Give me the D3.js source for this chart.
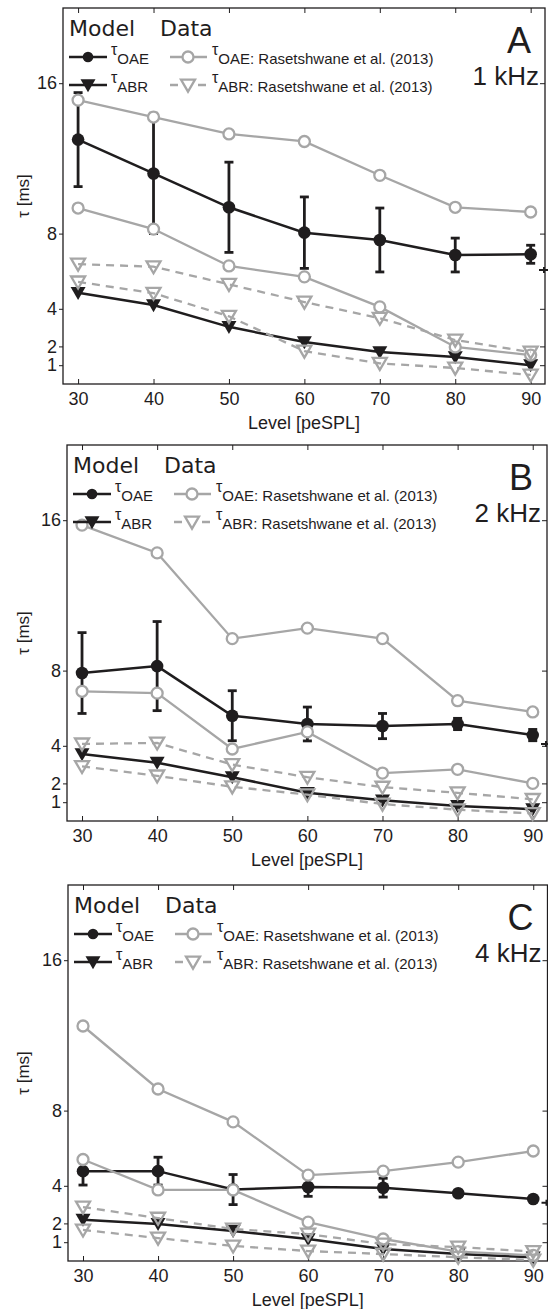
<!DOCTYPE html>
<html>
<head>
<meta charset="utf-8">
<script src="https://cdn.jsdelivr.net/npm/d3@7"></script>
<style>
body { margin: 0; background: #fff; }
svg { display: block; }
text { font-family: 'Liberation Sans', Arial, sans-serif; fill: #1f1d1e; }
</style>
</head>
<body>
<svg id="chart" width="548" height="1309"></svg>
<script>
const levels = [30, 40, 50, 60, 70, 80, 90]
const yTickValues = [1, 2, 4, 8, 16]
const panelLetters = ['A', 'B', 'C']
const panelFreqs = ['1 kHz', '2 kHz', '4 kHz']

// panel A, 1 kHz
const oaeModelA = [13.0, 11.2, 9.4, 8.05, 7.66, 6.86, 6.9]
const oaeErrA = [2.5, 3.2, 2.4, 1.9, 1.7, 0.9, 0.48]
const abrModelA = [4.85, 4.2, 3.04, 2.23, 1.7, 1.43, 1.0]
const oaeDataHiA = [15.1, 14.2, 13.3, 12.9, 11.1, 9.4, 9.15]
const oaeDataLoA = [9.36, 8.24, 6.28, 5.7, 4.1, 1.97, 1.54]
const abrDataHiA = [6.38, 6.24, 5.3, 4.36, 3.5, 2.34, 1.7]
const abrDataLoA = [5.43, 4.83, 3.6, 1.75, 1.1, 0.85, 0.48]
const strayA = 6.06

// panel B, 2 kHz
const oaeModelB = [7.87, 8.24, 5.6, 5.16, 5.05, 5.16, 4.57]
const oaeErrB = [2.15, 2.37, 1.33, 0.9, 0.67, 0.3, 0.3]
const abrModelB = [3.56, 3.1, 2.33, 1.5, 1.1, 0.8, 0.63]
const oaeDataHiB = [15.74, 14.26, 9.7, 10.26, 9.7, 6.4, 5.8]
const oaeDataLoB = [6.9, 6.8, 3.83, 4.74, 2.55, 2.75, 2.0]
const abrDataHiB = [4.1, 4.15, 3.0, 2.33, 1.8, 1.5, 1.15]
const abrDataLoB = [2.9, 2.4, 1.82, 1.4, 0.9, 0.6, 0.4]
const strayB = 4.1

// panel C, 4 kHz
const oaeModelC = [4.78, 4.78, 3.8, 3.94, 3.9, 3.6, 3.3]
const oaeErrC = [0.74, 0.74, 0.8, 0.5, 0.5, 0.15, 0.1]
const abrModelC = [2.2, 1.97, 1.6, 1.17, 0.64, 0.37, 0.2]
const oaeDataHiC = [12.5, 9.15, 7.4, 4.57, 4.78, 5.26, 5.85]
const oaeDataLoC = [5.4, 3.78, 3.78, 2.07, 1.17, 0.5, 0.3]
const abrDataHiC = [2.87, 2.28, 1.7, 1.43, 0.9, 0.74, 0.5]
const abrDataLoC = [1.65, 1.22, 0.8, 0.53, 0.37, 0.2, 0.05]
const strayC = 3.1

const panels = [
    { oae: oaeModelA, err: oaeErrA, abr: abrModelA, oaeHi: oaeDataHiA, oaeLo: oaeDataLoA, abrHi: abrDataHiA, abrLo: abrDataLoA, stray: strayA },
    { oae: oaeModelB, err: oaeErrB, abr: abrModelB, oaeHi: oaeDataHiB, oaeLo: oaeDataLoB, abrHi: abrDataHiB, abrLo: abrDataLoB, stray: strayB },
    { oae: oaeModelC, err: oaeErrC, abr: abrModelC, oaeHi: oaeDataHiC, oaeLo: oaeDataLoC, abrHi: abrDataHiC, abrLo: abrDataLoC, stray: strayC }
]

const frames = [
    { top: 8, left: 63, right: 545 },
    { top: 445, left: 67, right: 547 },
    { top: 885, left: 68, right: 547.5 }
]
const frameH = 376
const black = '#1f1d1e'
const gray = '#a6a6a6'
const triDown = (w, h) => `M${-w / 2},${-h * 0.45}L${w / 2},${-h * 0.45}L0,${h * 0.55}Z`

const svg = d3.select('#chart')

const drawCircles = (g, vals, x, y, r, fill, stroke, sw) => {
    g.selectAll(null)
        .data(vals)
        .enter()
        .append('circle')
        .attr('cx', (d, i) => x(levels[i]))
        .attr('cy', d => y(d))
        .attr('r', r)
        .attr('fill', fill)
        .attr('stroke', stroke)
        .attr('stroke-width', sw)
}

const drawTris = (g, vals, x, y, w, h, fill, stroke, sw) => {
    g.selectAll(null)
        .data(vals)
        .enter()
        .append('path')
        .attr('d', triDown(w, h))
        .attr('transform', (d, i) => `translate(${x(levels[i])},${y(d)})`)
        .attr('fill', fill)
        .attr('stroke', stroke)
        .attr('stroke-width', sw)
}

panels.forEach((p, pi) => {
    const f = frames[pi]
    const x = d3.scaleLinear().domain([28, 91.9]).range([f.left, f.right])
    const y = d3.scaleLinear().domain([0, 20]).range([f.top + frameH, f.top])
    const g = svg.append('g')
    const line = d3.line().x((d, i) => x(levels[i])).y(d => y(d))

    // axes
    const bottom = g.append('g')
        .attr('transform', `translate(0,${f.top + frameH})`)
        .call(d3.axisBottom(x).tickValues(levels).tickSizeInner(-5).tickSizeOuter(0).tickPadding(8))
    const top = g.append('g')
        .attr('transform', `translate(0,${f.top})`)
        .call(d3.axisTop(x).tickValues(levels).tickSizeInner(-5).tickSizeOuter(0).tickFormat(''))
    const left = g.append('g')
        .attr('transform', `translate(${f.left},0)`)
        .call(d3.axisLeft(y).tickValues(yTickValues).tickSizeInner(4).tickSizeOuter(0).tickPadding(2))
    const right = g.append('g')
        .attr('transform', `translate(${f.right},0)`)
        .call(d3.axisRight(y).tickValues(yTickValues).tickSizeInner(-5).tickSizeOuter(0).tickFormat(''))
    ;[bottom, top, left, right].forEach(a => {
        a.select('.domain').remove()
        a.selectAll('line').attr('stroke', black)
        a.selectAll('text').style('font-size', '18px').attr('fill', black)
    })

    g.append('rect')
        .attr('x', f.left).attr('y', f.top)
        .attr('width', f.right - f.left).attr('height', frameH)
        .attr('fill', 'none').attr('stroke', black).attr('stroke-width', 1.3)

    g.append('text')
        .attr('x', (f.left + f.right) / 2)
        .attr('y', f.top + frameH + 45)
        .attr('text-anchor', 'middle')
        .style('font-size', '18px')
        .text('Level [peSPL]')

    g.append('text')
        .attr('transform', `translate(29,${f.top + frameH / 2}) rotate(-90)`)
        .attr('text-anchor', 'middle')
        .style('font-size', '17px')
        .text('τ [ms]')

    // model
    g.append('path').datum(p.oae).attr('d', line)
        .attr('fill', 'none').attr('stroke', black).attr('stroke-width', 2.5)
    g.append('path').datum(p.abr).attr('d', line)
        .attr('fill', 'none').attr('stroke', black).attr('stroke-width', 2.5)
    const eb = g.selectAll(null).data(p.oae).enter().append('g').attr('stroke', black).attr('stroke-width', 2.8)
    eb.append('line')
        .attr('x1', (d, i) => x(levels[i])).attr('x2', (d, i) => x(levels[i]))
        .attr('y1', (d, i) => y(d + p.err[i])).attr('y2', (d, i) => y(d - p.err[i]))
    eb.append('line')
        .attr('x1', (d, i) => x(levels[i]) - 4.5).attr('x2', (d, i) => x(levels[i]) + 4.5)
        .attr('y1', (d, i) => y(d + p.err[i])).attr('y2', (d, i) => y(d + p.err[i]))
    eb.append('line')
        .attr('x1', (d, i) => x(levels[i]) - 4.5).attr('x2', (d, i) => x(levels[i]) + 4.5)
        .attr('y1', (d, i) => y(d - p.err[i])).attr('y2', (d, i) => y(d - p.err[i]))
    drawCircles(g, p.oae, x, y, 6.3, black, 'none', 0)
    drawTris(g, p.abr, x, y, 15, 13, black, 'none', 0)

    // stray mark on the right edge
    g.append('path')
        .attr('d', `M${x(91.9) - 6},${y(p.stray)}h11M${x(91.9) - 1},${y(p.stray) - 3}v6`)
        .attr('stroke', black).attr('stroke-width', 2).attr('fill', 'none')

    // data, Rasetshwane et al. (2013)
    ;[p.oaeHi, p.oaeLo].forEach(s => {
        g.append('path').datum(s).attr('d', line)
            .attr('fill', 'none').attr('stroke', gray).attr('stroke-width', 2.3)
        drawCircles(g, s, x, y, 5.5, '#fff', gray, 2.3)
    })
    ;[p.abrHi, p.abrLo].forEach(s => {
        g.append('path').datum(s).attr('d', line)
            .attr('fill', 'none').attr('stroke', gray).attr('stroke-width', 2.3).attr('stroke-dasharray', '8,6')
        drawTris(g, s, x, y, 14, 12, 'none', gray, 2.3)
    })

    // panel letter and frequency
    g.append('text')
        .attr('x', f.right - 14).attr('y', f.top + 45)
        .attr('text-anchor', 'end')
        .style('font-size', '36px')
        .text(panelLetters[pi])
    g.append('text')
        .attr('x', f.right - 6).attr('y', f.top + 77)
        .attr('text-anchor', 'end')
        .style('font-size', '26px')
        .text(panelFreqs[pi])

    // legend
    const L = f.left, T = f.top
    g.append('text').attr('x', L + 6).attr('y', T + 28)
        .style('font-family', 'DejaVu Sans').style('font-size', '22px').text('Model')
    g.append('text').attr('x', L + 97).attr('y', T + 28)
        .style('font-family', 'DejaVu Sans').style('font-size', '22px').text('Data')

    const rows = [
        { y: T + 49, sub: 'OAE', dataSub: 'OAE: Rasetshwane et al. (2013)', tri: false },
        { y: T + 77, sub: 'ABR', dataSub: 'ABR: Rasetshwane et al. (2013)', tri: true }
    ]
    rows.forEach(r => {
        g.append('line').attr('x1', L + 6).attr('x2', L + 44).attr('y1', r.y).attr('y2', r.y)
            .attr('stroke', black).attr('stroke-width', 2.5)
        if (r.tri) {
            g.append('path').attr('d', triDown(15, 13)).attr('transform', `translate(${L + 25},${r.y})`).attr('fill', black)
        } else {
            g.append('circle').attr('cx', L + 25).attr('cy', r.y).attr('r', 5.3).attr('fill', black)
        }
        const t1 = g.append('text').attr('x', L + 48).attr('y', r.y - 2)
        t1.append('tspan').style('font-size', '16px').text('τ')
        t1.append('tspan').attr('dy', 9).style('font-size', '15px').text(r.sub)

        g.append('line').attr('x1', L + 107).attr('x2', L + 144).attr('y1', r.y).attr('y2', r.y)
            .attr('stroke', gray).attr('stroke-width', 2.3)
            .attr('stroke-dasharray', r.tri ? '8,6' : null)
        if (r.tri) {
            g.append('rect').attr('x', L + 118).attr('y', r.y - 7).attr('width', 14).attr('height', 14).attr('fill', '#fff')
            g.append('path').attr('d', triDown(14, 12)).attr('transform', `translate(${L + 125},${r.y})`)
                .attr('fill', 'none').attr('stroke', gray).attr('stroke-width', 2.3)
        } else {
            g.append('circle').attr('cx', L + 125).attr('cy', r.y).attr('r', 5.5)
                .attr('fill', '#fff').attr('stroke', gray).attr('stroke-width', 2.3)
        }
        const t2 = g.append('text').attr('x', L + 149).attr('y', r.y - 2)
        t2.append('tspan').style('font-size', '16px').text('τ')
        t2.append('tspan').attr('dy', 9).style('font-size', '15px').text(r.dataSub)
    })
})
</script>
</body>
</html>
